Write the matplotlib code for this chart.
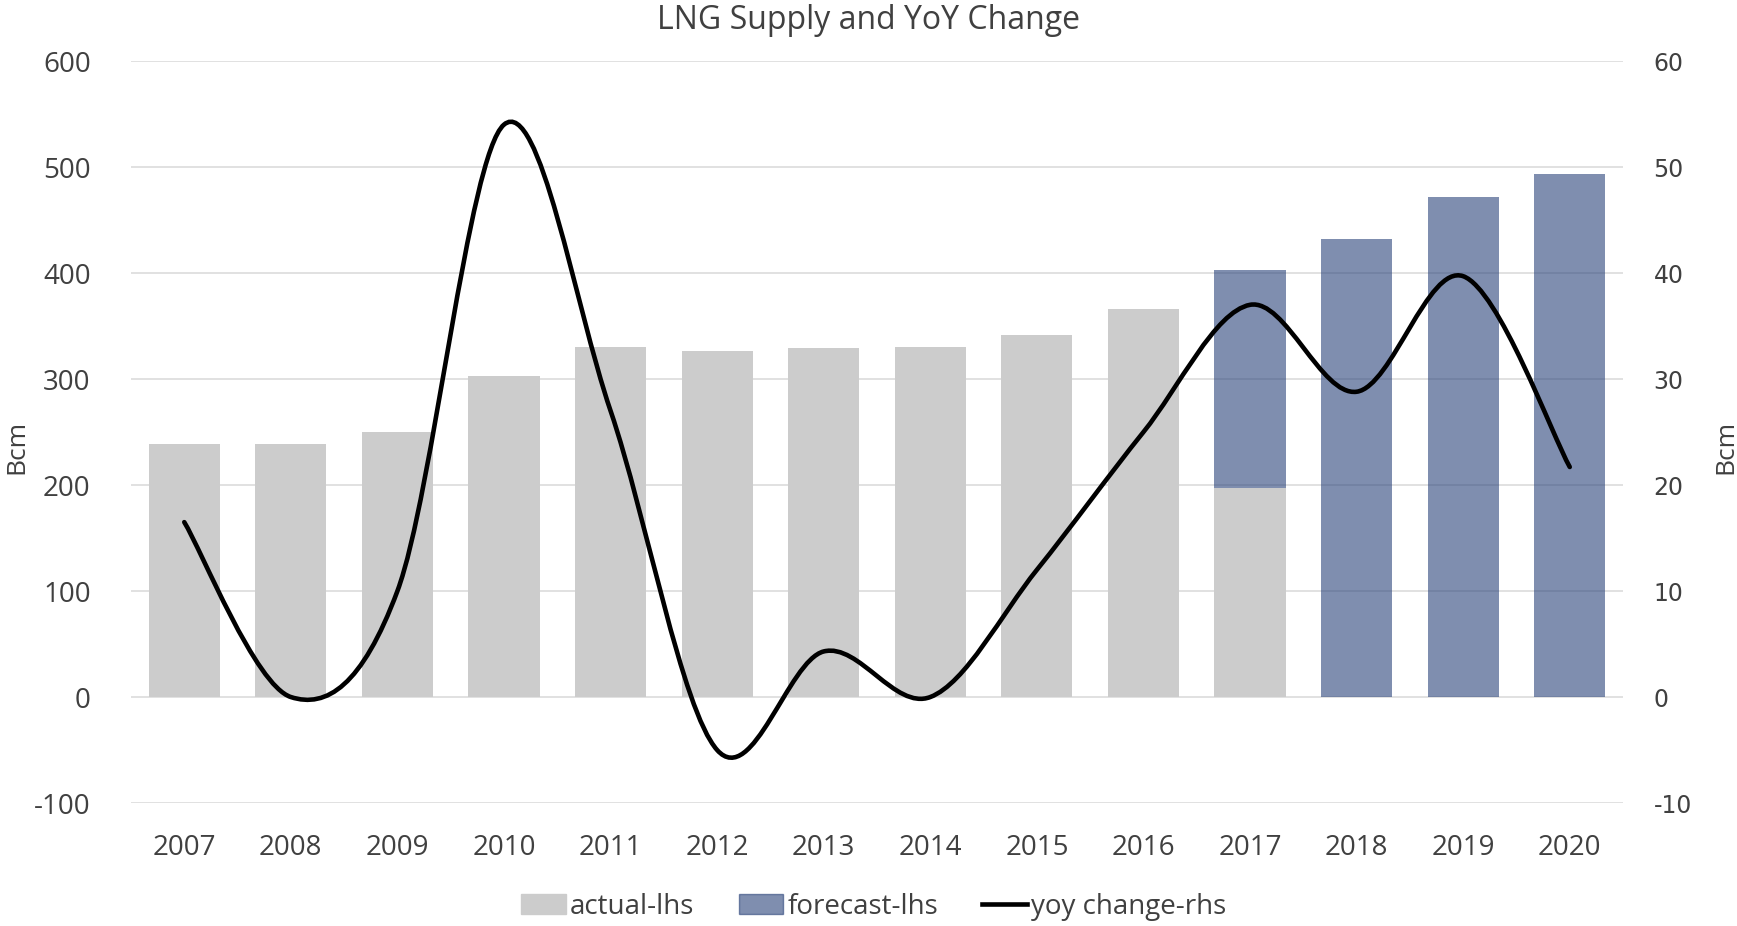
import numpy as np
import matplotlib
matplotlib.use('Agg')
import matplotlib.pyplot as plt
from matplotlib.path import Path
from matplotlib.patches import PathPatch, Patch
from matplotlib.lines import Line2D

# --- DADOS ---
anos = ['2007', '2008', '2009', '2010', '2011', '2012', '2013',
        '2014', '2015', '2016', '2017', '2018', '2019', '2020']
actual = [239, 239, 250, 303, 330, 326, 329, 330, 342, 366, 197, 0, 0, 0]
forecast = [0, 0, 0, 0, 0, 0, 0, 0, 0, 0, 206, 432, 472, 493]
yoy = [16.5, 0, 10, 54, 27, -5, 4.3, 0, 12, 25, 37, 28.8, 39.7, 21.7]

cor_texto = '#404040'
cor_grid = '#D9D9D9'
plt.rcParams['font.family'] = ['Open Sans', 'DejaVu Sans']
plt.rcParams['axes.unicode_minus'] = False

fig = plt.figure(figsize=(17.37, 9.26), dpi=100)
ax = fig.add_axes([0.0754, 0.1328, 0.8590, 0.8013])
ax2 = ax.twinx()

x = np.arange(len(anos))
ax.bar(x, actual, width=0.667, color='#CCCCCC', zorder=2)
ax.bar(x, forecast, width=0.667, bottom=actual, color='#2A437A', alpha=0.6, zorder=3)

ax.set_ylim(-100, 600)
ax.set_yticks(range(-100, 601, 100))
ax.set_xlim(-0.5, len(anos) - 0.5)
ax.set_xticks(x)
ax.set_xticklabels(anos)
ax.grid(axis='y', color=cor_grid, linewidth=1.1, zorder=0)
ax.set_axisbelow(True)
for s in ax.spines.values():
    s.set_visible(False)
ax.tick_params(axis='both', length=0, labelsize=20, colors=cor_texto)
ax.tick_params(axis='y', pad=29)
ax.tick_params(axis='x', pad=22)

# linha suavizada (estilo Excel) desenhada como curva de Bezier
ax2.set_ylim(-10, 60)
ax2.set_yticks(range(-10, 61, 10))
pts = np.column_stack([x, yoy]).astype(float)
ext = np.vstack([pts[0], pts, pts[-1]])
verts = [tuple(pts[0])]
codes = [Path.MOVETO]
for i in range(len(pts) - 1):
    p0, p1, p2, p3 = ext[i], ext[i + 1], ext[i + 2], ext[i + 3]
    c1 = p1 + (p2 - p0) / 6.0
    c2 = p2 - (p3 - p1) / 6.0
    verts += [tuple(c1), tuple(c2), tuple(p2)]
    codes += [Path.CURVE4] * 3
curva = PathPatch(Path(verts, codes), facecolor='none', edgecolor='black',
                  linewidth=3.3, capstyle='round', zorder=5)
ax2.add_patch(curva)
for s in ax2.spines.values():
    s.set_visible(False)
ax2.tick_params(axis='y', length=0, labelsize=17, colors=cor_texto, pad=22,
                labelfontfamily='DejaVu Sans')

# rótulos dos eixos
fig.text(0.0095, 0.517, 'Bcm', rotation=90, ha='center', va='center',
         fontsize=19, color=cor_texto)
fig.text(0.9935, 0.517, 'Bcm', rotation=90, ha='center', va='center',
         fontsize=19, color=cor_texto)

fig.text(0.5, 0.978, 'LNG Supply and YoY Change', ha='center', va='center',
         fontsize=23, color=cor_texto)

handles = [Patch(color='#CCCCCC'),
           Patch(color='#2A437A', alpha=0.6),
           Line2D([0], [0], color='black', linewidth=3.3)]
fig.legend(handles, ['actual-lhs', 'forecast-lhs', 'yoy change-rhs'],
           loc='center', bbox_to_anchor=(0.503, 0.021), ncol=3, frameon=False,
           fontsize=20, labelcolor=cor_texto, handlelength=1.6, handletextpad=0.15,
           columnspacing=1.6)

fig.savefig('out.png', dpi=100)
